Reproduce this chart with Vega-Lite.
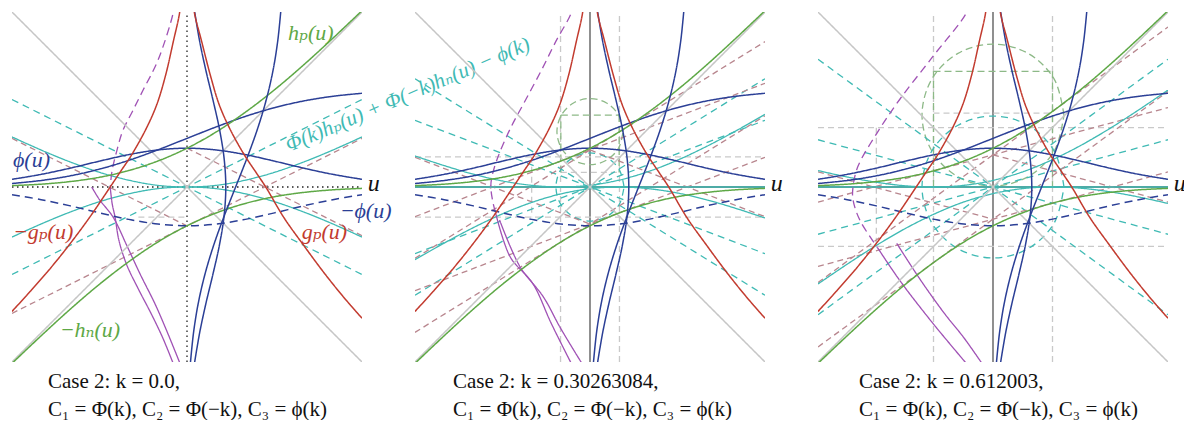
{
  "$schema": "https://vega.github.io/schema/vega-lite/v6.json",
  "background": "white",
  "padding": {"left": 12, "top": 12, "right": 0, "bottom": 0},
  "bounds": "flush",
  "spacing": 53,
  "config": {"view": {"stroke": null}, "font": "'Liberation Serif', 'Times New Roman', 'DejaVu Serif', serif"},
  "datasets": {
    "base": [
      {"curve":"d1","kind":"gray","u":-1.8,"v":-1.8,"i":0},{"curve":"d1","kind":"gray","u":1.8,"v":1.8,"i":1},
      {"curve":"d2","kind":"gray","u":-1.8,"v":1.8,"i":0},{"curve":"d2","kind":"gray","u":1.8,"v":-1.8,"i":1},

      {"curve":"phi","kind":"blue","u":-1.8,"v":0.079,"i":0},{"curve":"phi","kind":"blue","u":-1.5,"v":0.13,"i":1},{"curve":"phi","kind":"blue","u":-1.2,"v":0.194,"i":2},{"curve":"phi","kind":"blue","u":-0.9,"v":0.266,"i":3},{"curve":"phi","kind":"blue","u":-0.6,"v":0.333,"i":4},{"curve":"phi","kind":"blue","u":-0.3,"v":0.381,"i":5},{"curve":"phi","kind":"blue","u":0,"v":0.399,"i":6},{"curve":"phi","kind":"blue","u":0.3,"v":0.381,"i":7},{"curve":"phi","kind":"blue","u":0.6,"v":0.333,"i":8},{"curve":"phi","kind":"blue","u":0.9,"v":0.266,"i":9},{"curve":"phi","kind":"blue","u":1.2,"v":0.194,"i":10},{"curve":"phi","kind":"blue","u":1.5,"v":0.13,"i":11},{"curve":"phi","kind":"blue","u":1.8,"v":0.079,"i":12},

      {"curve":"cdf","kind":"blue","u":-1.8,"v":0.036,"i":0},{"curve":"cdf","kind":"blue","u":-1.5,"v":0.067,"i":1},{"curve":"cdf","kind":"blue","u":-1.2,"v":0.115,"i":2},{"curve":"cdf","kind":"blue","u":-0.9,"v":0.184,"i":3},{"curve":"cdf","kind":"blue","u":-0.6,"v":0.274,"i":4},{"curve":"cdf","kind":"blue","u":-0.3,"v":0.382,"i":5},{"curve":"cdf","kind":"blue","u":0,"v":0.5,"i":6},{"curve":"cdf","kind":"blue","u":0.3,"v":0.618,"i":7},{"curve":"cdf","kind":"blue","u":0.6,"v":0.726,"i":8},{"curve":"cdf","kind":"blue","u":0.9,"v":0.816,"i":9},{"curve":"cdf","kind":"blue","u":1.2,"v":0.885,"i":10},{"curve":"cdf","kind":"blue","u":1.5,"v":0.933,"i":11},{"curve":"cdf","kind":"blue","u":1.8,"v":0.964,"i":12},

      {"curve":"hP","kind":"green","u":-1.8,"v":0.014,"i":0},{"curve":"hP","kind":"green","u":-1.5,"v":0.029,"i":1},{"curve":"hP","kind":"green","u":-1.2,"v":0.056,"i":2},{"curve":"hP","kind":"green","u":-0.9,"v":0.1,"i":3},{"curve":"hP","kind":"green","u":-0.6,"v":0.169,"i":4},{"curve":"hP","kind":"green","u":-0.3,"v":0.267,"i":5},{"curve":"hP","kind":"green","u":0,"v":0.399,"i":6},{"curve":"hP","kind":"green","u":0.3,"v":0.566,"i":7},{"curve":"hP","kind":"green","u":0.6,"v":0.769,"i":8},{"curve":"hP","kind":"green","u":0.9,"v":1.0,"i":9},{"curve":"hP","kind":"green","u":1.2,"v":1.256,"i":10},{"curve":"hP","kind":"green","u":1.5,"v":1.53,"i":11},{"curve":"hP","kind":"green","u":1.8,"v":1.814,"i":12},

      {"curve":"mhN","kind":"green","u":-1.8,"v":-1.814,"i":0},{"curve":"mhN","kind":"green","u":-1.5,"v":-1.53,"i":1},{"curve":"mhN","kind":"green","u":-1.2,"v":-1.256,"i":2},{"curve":"mhN","kind":"green","u":-0.9,"v":-1.0,"i":3},{"curve":"mhN","kind":"green","u":-0.6,"v":-0.769,"i":4},{"curve":"mhN","kind":"green","u":-0.3,"v":-0.566,"i":5},{"curve":"mhN","kind":"green","u":0,"v":-0.399,"i":6},{"curve":"mhN","kind":"green","u":0.3,"v":-0.267,"i":7},{"curve":"mhN","kind":"green","u":0.6,"v":-0.169,"i":8},{"curve":"mhN","kind":"green","u":0.9,"v":-0.1,"i":9},{"curve":"mhN","kind":"green","u":1.2,"v":-0.056,"i":10},{"curve":"mhN","kind":"green","u":1.5,"v":-0.029,"i":11},{"curve":"mhN","kind":"green","u":1.8,"v":-0.014,"i":12},

      {"curve":"mphi","kind":"blueDash","u":-1.8,"v":-0.079,"i":0},{"curve":"mphi","kind":"blueDash","u":-1.5,"v":-0.13,"i":1},{"curve":"mphi","kind":"blueDash","u":-1.2,"v":-0.194,"i":2},{"curve":"mphi","kind":"blueDash","u":-0.9,"v":-0.266,"i":3},{"curve":"mphi","kind":"blueDash","u":-0.6,"v":-0.333,"i":4},{"curve":"mphi","kind":"blueDash","u":-0.3,"v":-0.381,"i":5},{"curve":"mphi","kind":"blueDash","u":0,"v":-0.399,"i":6},{"curve":"mphi","kind":"blueDash","u":0.3,"v":-0.381,"i":7},{"curve":"mphi","kind":"blueDash","u":0.6,"v":-0.333,"i":8},{"curve":"mphi","kind":"blueDash","u":0.9,"v":-0.266,"i":9},{"curve":"mphi","kind":"blueDash","u":1.2,"v":-0.194,"i":10},{"curve":"mphi","kind":"blueDash","u":1.5,"v":-0.13,"i":11},{"curve":"mphi","kind":"blueDash","u":1.8,"v":-0.079,"i":12},

      {"curve":"phiInv","kind":"blue","u":0.079,"v":-1.8,"i":0},{"curve":"phiInv","kind":"blue","u":0.13,"v":-1.5,"i":1},{"curve":"phiInv","kind":"blue","u":0.194,"v":-1.2,"i":2},{"curve":"phiInv","kind":"blue","u":0.266,"v":-0.9,"i":3},{"curve":"phiInv","kind":"blue","u":0.333,"v":-0.6,"i":4},{"curve":"phiInv","kind":"blue","u":0.381,"v":-0.3,"i":5},{"curve":"phiInv","kind":"blue","u":0.399,"v":0,"i":6},{"curve":"phiInv","kind":"blue","u":0.381,"v":0.3,"i":7},{"curve":"phiInv","kind":"blue","u":0.333,"v":0.6,"i":8},{"curve":"phiInv","kind":"blue","u":0.266,"v":0.9,"i":9},{"curve":"phiInv","kind":"blue","u":0.194,"v":1.2,"i":10},{"curve":"phiInv","kind":"blue","u":0.13,"v":1.5,"i":11},{"curve":"phiInv","kind":"blue","u":0.079,"v":1.8,"i":12},

      {"curve":"cdfInv","kind":"blue","u":0.036,"v":-1.8,"i":0},{"curve":"cdfInv","kind":"blue","u":0.067,"v":-1.5,"i":1},{"curve":"cdfInv","kind":"blue","u":0.115,"v":-1.2,"i":2},{"curve":"cdfInv","kind":"blue","u":0.184,"v":-0.9,"i":3},{"curve":"cdfInv","kind":"blue","u":0.274,"v":-0.6,"i":4},{"curve":"cdfInv","kind":"blue","u":0.382,"v":-0.3,"i":5},{"curve":"cdfInv","kind":"blue","u":0.5,"v":0,"i":6},{"curve":"cdfInv","kind":"blue","u":0.618,"v":0.3,"i":7},{"curve":"cdfInv","kind":"blue","u":0.726,"v":0.6,"i":8},{"curve":"cdfInv","kind":"blue","u":0.816,"v":0.9,"i":9},{"curve":"cdfInv","kind":"blue","u":0.885,"v":1.2,"i":10},{"curve":"cdfInv","kind":"blue","u":0.933,"v":1.5,"i":11},{"curve":"cdfInv","kind":"blue","u":0.964,"v":1.8,"i":12},

      {"curve":"gR","kind":"red","u":0.06,"v":2.0,"i":0},{"curve":"gR","kind":"red","u":0.075,"v":1.8,"i":1},{"curve":"gR","kind":"red","u":0.15,"v":1.5,"i":2},{"curve":"gR","kind":"red","u":0.24,"v":1.15,"i":3},{"curve":"gR","kind":"red","u":0.33,"v":0.85,"i":4},{"curve":"gR","kind":"red","u":0.44,"v":0.6,"i":5},{"curve":"gR","kind":"red","u":0.59,"v":0.33,"i":6},{"curve":"gR","kind":"red","u":0.71,"v":0.15,"i":7},{"curve":"gR","kind":"red","u":0.81,"v":0.0,"i":8},{"curve":"gR","kind":"red","u":1.0,"v":-0.32,"i":9},{"curve":"gR","kind":"red","u":1.2,"v":-0.6,"i":10},{"curve":"gR","kind":"red","u":1.4,"v":-0.87,"i":11},{"curve":"gR","kind":"red","u":1.6,"v":-1.12,"i":12},{"curve":"gR","kind":"red","u":1.8,"v":-1.35,"i":13},

      {"curve":"gL","kind":"red","u":-0.06,"v":2.0,"i":0},{"curve":"gL","kind":"red","u":-0.075,"v":1.8,"i":1},{"curve":"gL","kind":"red","u":-0.14,"v":1.5,"i":2},{"curve":"gL","kind":"red","u":-0.22,"v":1.15,"i":3},{"curve":"gL","kind":"red","u":-0.31,"v":0.85,"i":4},{"curve":"gL","kind":"red","u":-0.42,"v":0.6,"i":5},{"curve":"gL","kind":"red","u":-0.57,"v":0.33,"i":6},{"curve":"gL","kind":"red","u":-0.69,"v":0.15,"i":7},{"curve":"gL","kind":"red","u":-0.79,"v":0.0,"i":8},{"curve":"gL","kind":"red","u":-1.0,"v":-0.31,"i":9},{"curve":"gL","kind":"red","u":-1.2,"v":-0.58,"i":10},{"curve":"gL","kind":"red","u":-1.4,"v":-0.83,"i":11},{"curve":"gL","kind":"red","u":-1.6,"v":-1.06,"i":12},{"curve":"gL","kind":"red","u":-1.8,"v":-1.28,"i":13}
    ],
    "extra": [
      {"p":1,"curve":"p1au","kind":"axisDot","u":-1.8,"v":0,"i":0},{"p":1,"curve":"p1au","kind":"axisDot","u":1.8,"v":0,"i":1},
      {"p":1,"curve":"p1av","kind":"axisDot","u":0,"v":-1.8,"i":0},{"p":1,"curve":"p1av","kind":"axisDot","u":0,"v":1.8,"i":1},
      {"p":1,"curve":"p1cd1","kind":"cyanDash","u":-1.8,"v":0.9,"i":0},{"p":1,"curve":"p1cd1","kind":"cyanDash","u":1.8,"v":-0.9,"i":1},
      {"p":1,"curve":"p1cd2","kind":"cyanDash","u":-1.8,"v":-0.9,"i":0},{"p":1,"curve":"p1cd2","kind":"cyanDash","u":1.8,"v":0.9,"i":1},
      {"p":1,"curve":"p1m1","kind":"mauveDash","u":-1.8,"v":-1.3,"i":0},{"p":1,"curve":"p1m1","kind":"mauveDash","u":1.8,"v":0.5,"i":1},
      {"p":1,"curve":"p1m2","kind":"mauveDash","u":-1.8,"v":0.5,"i":0},{"p":1,"curve":"p1m2","kind":"mauveDash","u":0,"v":-0.4,"i":1},
      {"p":1,"curve":"p1m3","kind":"mauveDash","u":0,"v":0.4,"i":0},{"p":1,"curve":"p1m3","kind":"mauveDash","u":1.8,"v":-0.5,"i":1},
      {"p":1,"curve":"p1g1","kind":"grayDash","u":-0.5,"v":-0.31,"i":0},{"p":1,"curve":"p1g1","kind":"grayDash","u":0,"v":-0.31,"i":1},

      {"p":1,"curve":"p1F","kind":"cyan","u":-1.8,"v":0.515,"i":0},{"p":1,"curve":"p1F","kind":"cyan","u":-1.5,"v":0.38,"i":1},{"p":1,"curve":"p1F","kind":"cyan","u":-1.2,"v":0.257,"i":2},{"p":1,"curve":"p1F","kind":"cyan","u":-0.9,"v":0.151,"i":3},{"p":1,"curve":"p1F","kind":"cyan","u":-0.6,"v":0.07,"i":4},{"p":1,"curve":"p1F","kind":"cyan","u":-0.3,"v":0.017,"i":5},{"p":1,"curve":"p1F","kind":"cyan","u":0,"v":0,"i":6},{"p":1,"curve":"p1F","kind":"cyan","u":0.3,"v":0.017,"i":7},{"p":1,"curve":"p1F","kind":"cyan","u":0.6,"v":0.07,"i":8},{"p":1,"curve":"p1F","kind":"cyan","u":0.9,"v":0.151,"i":9},{"p":1,"curve":"p1F","kind":"cyan","u":1.2,"v":0.257,"i":10},{"p":1,"curve":"p1F","kind":"cyan","u":1.5,"v":0.38,"i":11},{"p":1,"curve":"p1F","kind":"cyan","u":1.8,"v":0.515,"i":12},
      {"p":1,"curve":"p1G","kind":"cyan","u":-1.8,"v":-0.515,"i":0},{"p":1,"curve":"p1G","kind":"cyan","u":-1.5,"v":-0.38,"i":1},{"p":1,"curve":"p1G","kind":"cyan","u":-1.2,"v":-0.257,"i":2},{"p":1,"curve":"p1G","kind":"cyan","u":-0.9,"v":-0.151,"i":3},{"p":1,"curve":"p1G","kind":"cyan","u":-0.6,"v":-0.07,"i":4},{"p":1,"curve":"p1G","kind":"cyan","u":-0.3,"v":-0.017,"i":5},{"p":1,"curve":"p1G","kind":"cyan","u":0,"v":0,"i":6},{"p":1,"curve":"p1G","kind":"cyan","u":0.3,"v":-0.017,"i":7},{"p":1,"curve":"p1G","kind":"cyan","u":0.6,"v":-0.07,"i":8},{"p":1,"curve":"p1G","kind":"cyan","u":0.9,"v":-0.151,"i":9},{"p":1,"curve":"p1G","kind":"cyan","u":1.2,"v":-0.257,"i":10},{"p":1,"curve":"p1G","kind":"cyan","u":1.5,"v":-0.38,"i":11},{"p":1,"curve":"p1G","kind":"cyan","u":1.8,"v":-0.515,"i":12},

      {"p":1,"curve":"p1pd","kind":"purpleDash","u":-0.13,"v":1.9,"i":0},{"p":1,"curve":"p1pd","kind":"purpleDash","u":-0.14,"v":1.8,"i":1},{"p":1,"curve":"p1pd","kind":"purpleDash","u":-0.3,"v":1.3,"i":2},{"p":1,"curve":"p1pd","kind":"purpleDash","u":-0.45,"v":1.0,"i":3},{"p":1,"curve":"p1pd","kind":"purpleDash","u":-0.56,"v":0.78,"i":4},{"p":1,"curve":"p1pd","kind":"purpleDash","u":-0.66,"v":0.58,"i":5},{"p":1,"curve":"p1pd","kind":"purpleDash","u":-0.72,"v":0.38,"i":6},{"p":1,"curve":"p1pd","kind":"purpleDash","u":-0.77,"v":0.17,"i":7},{"p":1,"curve":"p1pd","kind":"purpleDash","u":-0.79,"v":0,"i":8},
      {"p":1,"curve":"p1pa","kind":"purple","u":-0.98,"v":0,"i":0},{"p":1,"curve":"p1pa","kind":"purple","u":-0.9,"v":-0.13,"i":1},{"p":1,"curve":"p1pa","kind":"purple","u":-0.76,"v":-0.31,"i":2},{"p":1,"curve":"p1pa","kind":"purple","u":-0.62,"v":-0.6,"i":3},{"p":1,"curve":"p1pa","kind":"purple","u":-0.48,"v":-0.9,"i":4},{"p":1,"curve":"p1pa","kind":"purple","u":-0.33,"v":-1.2,"i":5},{"p":1,"curve":"p1pa","kind":"purple","u":-0.2,"v":-1.5,"i":6},{"p":1,"curve":"p1pa","kind":"purple","u":-0.07,"v":-1.82,"i":7},
      {"p":1,"curve":"p1pb","kind":"purple","u":-0.79,"v":0,"i":0},{"p":1,"curve":"p1pb","kind":"purple","u":-0.77,"v":-0.17,"i":1},{"p":1,"curve":"p1pb","kind":"purple","u":-0.74,"v":-0.31,"i":2},{"p":1,"curve":"p1pb","kind":"purple","u":-0.7,"v":-0.55,"i":3},{"p":1,"curve":"p1pb","kind":"purple","u":-0.62,"v":-0.8,"i":4},{"p":1,"curve":"p1pb","kind":"purple","u":-0.5,"v":-1.05,"i":5},{"p":1,"curve":"p1pb","kind":"purple","u":-0.37,"v":-1.3,"i":6},{"p":1,"curve":"p1pb","kind":"purple","u":-0.25,"v":-1.55,"i":7},{"p":1,"curve":"p1pb","kind":"purple","u":-0.14,"v":-1.82,"i":8},

      {"p":2,"curve":"p2au","kind":"axis","u":-1.8,"v":0,"i":0},{"p":2,"curve":"p2au","kind":"axis","u":1.8,"v":0,"i":1},
      {"p":2,"curve":"p2av","kind":"axis","u":0,"v":-1.8,"i":0},{"p":2,"curve":"p2av","kind":"axis","u":0,"v":1.8,"i":1},
      {"p":2,"curve":"p2g1","kind":"grayDash","u":-0.303,"v":-1.8,"i":0},{"p":2,"curve":"p2g1","kind":"grayDash","u":-0.303,"v":1.8,"i":1},
      {"p":2,"curve":"p2g2","kind":"grayDash","u":0.303,"v":-1.8,"i":0},{"p":2,"curve":"p2g2","kind":"grayDash","u":0.303,"v":1.8,"i":1},
      {"p":2,"curve":"p2g3","kind":"grayDash","u":-1.8,"v":0.31,"i":0},{"p":2,"curve":"p2g3","kind":"grayDash","u":1.8,"v":0.31,"i":1},
      {"p":2,"curve":"p2g4","kind":"grayDash","u":-1.8,"v":-0.31,"i":0},{"p":2,"curve":"p2g4","kind":"grayDash","u":1.8,"v":-0.31,"i":1},
      {"p":2,"curve":"p2g5","kind":"grayDash","u":-0.6,"v":0.31,"i":0},{"p":2,"curve":"p2g5","kind":"grayDash","u":-0.6,"v":-0.31,"i":1},
      {"p":2,"curve":"p2g6","kind":"grayDash","u":-0.3,"v":0.15,"i":0},{"p":2,"curve":"p2g6","kind":"grayDash","u":0.3,"v":0.15,"i":1},
      {"p":2,"curve":"p2r1","kind":"greenDash","u":-0.3,"v":0.15,"i":0},{"p":2,"curve":"p2r1","kind":"greenDash","u":-0.3,"v":0.74,"i":1},
      {"p":2,"curve":"p2r2","kind":"greenDash","u":-0.3,"v":0.74,"i":0},{"p":2,"curve":"p2r2","kind":"greenDash","u":0.3,"v":0.74,"i":1},
      {"p":2,"curve":"p2r3","kind":"greenDash","u":0.3,"v":0.74,"i":0},{"p":2,"curve":"p2r3","kind":"greenDash","u":0.3,"v":0.15,"i":1},
      {"p":2,"curve":"p2gc","kind":"greenDash","u":0.34,"v":0.57,"i":0},{"p":2,"curve":"p2gc","kind":"greenDash","u":0.294,"v":0.74,"i":1},{"p":2,"curve":"p2gc","kind":"greenDash","u":0.17,"v":0.864,"i":2},{"p":2,"curve":"p2gc","kind":"greenDash","u":0,"v":0.91,"i":3},{"p":2,"curve":"p2gc","kind":"greenDash","u":-0.17,"v":0.864,"i":4},{"p":2,"curve":"p2gc","kind":"greenDash","u":-0.294,"v":0.74,"i":5},{"p":2,"curve":"p2gc","kind":"greenDash","u":-0.34,"v":0.57,"i":6},{"p":2,"curve":"p2gc","kind":"greenDash","u":-0.294,"v":0.4,"i":7},{"p":2,"curve":"p2gc","kind":"greenDash","u":-0.17,"v":0.276,"i":8},{"p":2,"curve":"p2gc","kind":"greenDash","u":0,"v":0.23,"i":9},{"p":2,"curve":"p2gc","kind":"greenDash","u":0.17,"v":0.276,"i":10},{"p":2,"curve":"p2gc","kind":"greenDash","u":0.294,"v":0.4,"i":11},{"p":2,"curve":"p2gc","kind":"greenDash","u":0.34,"v":0.57,"i":12},
      {"p":2,"curve":"p2cc","kind":"cyanDash","u":0.35,"v":0,"i":0},{"p":2,"curve":"p2cc","kind":"cyanDash","u":0.303,"v":0.175,"i":1},{"p":2,"curve":"p2cc","kind":"cyanDash","u":0.175,"v":0.303,"i":2},{"p":2,"curve":"p2cc","kind":"cyanDash","u":0,"v":0.35,"i":3},{"p":2,"curve":"p2cc","kind":"cyanDash","u":-0.175,"v":0.303,"i":4},{"p":2,"curve":"p2cc","kind":"cyanDash","u":-0.303,"v":0.175,"i":5},{"p":2,"curve":"p2cc","kind":"cyanDash","u":-0.35,"v":0,"i":6},{"p":2,"curve":"p2cc","kind":"cyanDash","u":-0.303,"v":-0.175,"i":7},{"p":2,"curve":"p2cc","kind":"cyanDash","u":-0.175,"v":-0.303,"i":8},{"p":2,"curve":"p2cc","kind":"cyanDash","u":0,"v":-0.35,"i":9},{"p":2,"curve":"p2cc","kind":"cyanDash","u":0.175,"v":-0.303,"i":10},{"p":2,"curve":"p2cc","kind":"cyanDash","u":0.303,"v":-0.175,"i":11},{"p":2,"curve":"p2cc","kind":"cyanDash","u":0.35,"v":0,"i":12},
      {"p":2,"curve":"p2cd1","kind":"cyanDash","u":-1.8,"v":1.114,"i":0},{"p":2,"curve":"p2cd1","kind":"cyanDash","u":1.8,"v":-1.114,"i":1},
      {"p":2,"curve":"p2cd2","kind":"cyanDash","u":-1.8,"v":-1.114,"i":0},{"p":2,"curve":"p2cd2","kind":"cyanDash","u":1.8,"v":1.114,"i":1},
      {"p":2,"curve":"p2cd3","kind":"cyanDash","u":-1.8,"v":0.686,"i":0},{"p":2,"curve":"p2cd3","kind":"cyanDash","u":1.8,"v":-0.686,"i":1},
      {"p":2,"curve":"p2cd4","kind":"cyanDash","u":-1.8,"v":-0.686,"i":0},{"p":2,"curve":"p2cd4","kind":"cyanDash","u":1.8,"v":0.686,"i":1},
      {"p":2,"curve":"p2m1","kind":"mauveDash","u":-1.8,"v":-1.495,"i":0},{"p":2,"curve":"p2m1","kind":"mauveDash","u":1.8,"v":0.733,"i":1},
      {"p":2,"curve":"p2m2","kind":"mauveDash","u":-1.8,"v":-1.067,"i":0},{"p":2,"curve":"p2m2","kind":"mauveDash","u":1.8,"v":0.305,"i":1},
      {"p":2,"curve":"p2m3","kind":"mauveDash","u":-1.8,"v":-0.733,"i":0},{"p":2,"curve":"p2m3","kind":"mauveDash","u":1.8,"v":1.495,"i":1},
      {"p":2,"curve":"p2m4","kind":"mauveDash","u":-1.8,"v":-0.305,"i":0},{"p":2,"curve":"p2m4","kind":"mauveDash","u":1.8,"v":1.067,"i":1},
      {"p":2,"curve":"p2m5","kind":"mauveDash","u":-1.8,"v":0.305,"i":0},{"p":2,"curve":"p2m5","kind":"mauveDash","u":0,"v":-0.381,"i":1},
      {"p":2,"curve":"p2m6","kind":"mauveDash","u":0,"v":0.381,"i":0},{"p":2,"curve":"p2m6","kind":"mauveDash","u":1.8,"v":-0.305,"i":1},
      {"p":2,"curve":"p2H","kind":"cyan","u":-1.8,"v":0,"i":0},{"p":2,"curve":"p2H","kind":"cyan","u":1.8,"v":0,"i":1},
      {"p":2,"curve":"p2F","kind":"cyan","u":-1.8,"v":0.319,"i":0},{"p":2,"curve":"p2F","kind":"cyan","u":-1.5,"v":0.22,"i":1},{"p":2,"curve":"p2F","kind":"cyan","u":-1.2,"v":0.132,"i":2},{"p":2,"curve":"p2F","kind":"cyan","u":-0.9,"v":0.062,"i":3},{"p":2,"curve":"p2F","kind":"cyan","u":-0.6,"v":0.017,"i":4},{"p":2,"curve":"p2F","kind":"cyan","u":-0.3,"v":0,"i":5},{"p":2,"curve":"p2F","kind":"cyan","u":0,"v":0.018,"i":6},{"p":2,"curve":"p2F","kind":"cyan","u":0.3,"v":0.071,"i":7},{"p":2,"curve":"p2F","kind":"cyan","u":0.6,"v":0.159,"i":8},{"p":2,"curve":"p2F","kind":"cyan","u":0.9,"v":0.276,"i":9},{"p":2,"curve":"p2F","kind":"cyan","u":1.2,"v":0.418,"i":10},{"p":2,"curve":"p2F","kind":"cyan","u":1.5,"v":0.577,"i":11},{"p":2,"curve":"p2F","kind":"cyan","u":1.8,"v":0.747,"i":12},
      {"p":2,"curve":"p2G","kind":"cyan","u":-1.8,"v":-0.747,"i":0},{"p":2,"curve":"p2G","kind":"cyan","u":-1.5,"v":-0.577,"i":1},{"p":2,"curve":"p2G","kind":"cyan","u":-1.2,"v":-0.418,"i":2},{"p":2,"curve":"p2G","kind":"cyan","u":-0.9,"v":-0.276,"i":3},{"p":2,"curve":"p2G","kind":"cyan","u":-0.6,"v":-0.159,"i":4},{"p":2,"curve":"p2G","kind":"cyan","u":-0.3,"v":-0.071,"i":5},{"p":2,"curve":"p2G","kind":"cyan","u":0,"v":-0.018,"i":6},{"p":2,"curve":"p2G","kind":"cyan","u":0.3,"v":0,"i":7},{"p":2,"curve":"p2G","kind":"cyan","u":0.6,"v":-0.017,"i":8},{"p":2,"curve":"p2G","kind":"cyan","u":0.9,"v":-0.062,"i":9},{"p":2,"curve":"p2G","kind":"cyan","u":1.2,"v":-0.132,"i":10},{"p":2,"curve":"p2G","kind":"cyan","u":1.5,"v":-0.22,"i":11},{"p":2,"curve":"p2G","kind":"cyan","u":1.8,"v":-0.319,"i":12},
      {"p":2,"curve":"p2pd","kind":"purpleDash","u":-0.18,"v":1.9,"i":0},{"p":2,"curve":"p2pd","kind":"purpleDash","u":-0.19,"v":1.8,"i":1},{"p":2,"curve":"p2pd","kind":"purpleDash","u":-0.35,"v":1.5,"i":2},{"p":2,"curve":"p2pd","kind":"purpleDash","u":-0.5,"v":1.2,"i":3},{"p":2,"curve":"p2pd","kind":"purpleDash","u":-0.66,"v":0.9,"i":4},{"p":2,"curve":"p2pd","kind":"purpleDash","u":-0.82,"v":0.6,"i":5},{"p":2,"curve":"p2pd","kind":"purpleDash","u":-0.95,"v":0.3,"i":6},{"p":2,"curve":"p2pd","kind":"purpleDash","u":-1.01,"v":0.1,"i":7},{"p":2,"curve":"p2pd","kind":"purpleDash","u":-1.02,"v":0,"i":8},{"p":2,"curve":"p2pd","kind":"purpleDash","u":-1.0,"v":-0.15,"i":9},{"p":2,"curve":"p2pd","kind":"purpleDash","u":-0.97,"v":-0.27,"i":10},
      {"p":2,"curve":"p2pa","kind":"purple","u":-0.97,"v":-0.27,"i":0},{"p":2,"curve":"p2pa","kind":"purple","u":-0.82,"v":-0.72,"i":1},{"p":2,"curve":"p2pa","kind":"purple","u":-0.59,"v":-0.99,"i":2},{"p":2,"curve":"p2pa","kind":"purple","u":-0.4,"v":-1.4,"i":3},{"p":2,"curve":"p2pa","kind":"purple","u":-0.19,"v":-1.82,"i":4},
      {"p":2,"curve":"p2pb","kind":"purple","u":-0.93,"v":-0.34,"i":0},{"p":2,"curve":"p2pb","kind":"purple","u":-0.72,"v":-0.82,"i":1},{"p":2,"curve":"p2pb","kind":"purple","u":-0.48,"v":-1.13,"i":2},{"p":2,"curve":"p2pb","kind":"purple","u":-0.31,"v":-1.44,"i":3},{"p":2,"curve":"p2pb","kind":"purple","u":-0.08,"v":-1.82,"i":4},

      {"p":3,"curve":"p3au","kind":"axis","u":-1.8,"v":0,"i":0},{"p":3,"curve":"p3au","kind":"axis","u":1.8,"v":0,"i":1},
      {"p":3,"curve":"p3av","kind":"axis","u":0,"v":-1.8,"i":0},{"p":3,"curve":"p3av","kind":"axis","u":0,"v":1.8,"i":1},
      {"p":3,"curve":"p3g1","kind":"grayDash","u":-0.612,"v":-1.8,"i":0},{"p":3,"curve":"p3g1","kind":"grayDash","u":-0.612,"v":1.8,"i":1},
      {"p":3,"curve":"p3g2","kind":"grayDash","u":0.612,"v":-1.8,"i":0},{"p":3,"curve":"p3g2","kind":"grayDash","u":0.612,"v":1.8,"i":1},
      {"p":3,"curve":"p3g3","kind":"grayDash","u":-1.8,"v":0.61,"i":0},{"p":3,"curve":"p3g3","kind":"grayDash","u":1.8,"v":0.61,"i":1},
      {"p":3,"curve":"p3g4","kind":"grayDash","u":-1.8,"v":-0.61,"i":0},{"p":3,"curve":"p3g4","kind":"grayDash","u":1.8,"v":-0.61,"i":1},
      {"p":3,"curve":"p3g5","kind":"grayDash","u":-1.2,"v":0.61,"i":0},{"p":3,"curve":"p3g5","kind":"grayDash","u":-1.2,"v":-0.61,"i":1},
      {"p":3,"curve":"p3g6","kind":"grayDash","u":-0.612,"v":0.76,"i":0},{"p":3,"curve":"p3g6","kind":"grayDash","u":0.612,"v":0.76,"i":1},
      {"p":3,"curve":"p3r1","kind":"greenDash","u":-0.612,"v":0,"i":0},{"p":3,"curve":"p3r1","kind":"greenDash","u":-0.612,"v":1.19,"i":1},
      {"p":3,"curve":"p3r2","kind":"greenDash","u":-0.612,"v":1.19,"i":0},{"p":3,"curve":"p3r2","kind":"greenDash","u":0.612,"v":1.19,"i":1},
      {"p":3,"curve":"p3r3","kind":"greenDash","u":0.612,"v":1.19,"i":0},{"p":3,"curve":"p3r3","kind":"greenDash","u":0.612,"v":0,"i":1},
      {"p":3,"curve":"p3gc","kind":"greenDash","u":0.73,"v":0.74,"i":0},{"p":3,"curve":"p3gc","kind":"greenDash","u":0.632,"v":1.105,"i":1},{"p":3,"curve":"p3gc","kind":"greenDash","u":0.365,"v":1.372,"i":2},{"p":3,"curve":"p3gc","kind":"greenDash","u":0,"v":1.47,"i":3},{"p":3,"curve":"p3gc","kind":"greenDash","u":-0.365,"v":1.372,"i":4},{"p":3,"curve":"p3gc","kind":"greenDash","u":-0.632,"v":1.105,"i":5},{"p":3,"curve":"p3gc","kind":"greenDash","u":-0.73,"v":0.74,"i":6},{"p":3,"curve":"p3gc","kind":"greenDash","u":-0.632,"v":0.375,"i":7},{"p":3,"curve":"p3gc","kind":"greenDash","u":-0.365,"v":0.108,"i":8},{"p":3,"curve":"p3gc","kind":"greenDash","u":0,"v":0.01,"i":9},{"p":3,"curve":"p3gc","kind":"greenDash","u":0.365,"v":0.108,"i":10},{"p":3,"curve":"p3gc","kind":"greenDash","u":0.632,"v":0.375,"i":11},{"p":3,"curve":"p3gc","kind":"greenDash","u":0.73,"v":0.74,"i":12},
      {"p":3,"curve":"p3cc","kind":"cyanDash","u":0.73,"v":0,"i":0},{"p":3,"curve":"p3cc","kind":"cyanDash","u":0.632,"v":0.365,"i":1},{"p":3,"curve":"p3cc","kind":"cyanDash","u":0.365,"v":0.632,"i":2},{"p":3,"curve":"p3cc","kind":"cyanDash","u":0,"v":0.73,"i":3},{"p":3,"curve":"p3cc","kind":"cyanDash","u":-0.365,"v":0.632,"i":4},{"p":3,"curve":"p3cc","kind":"cyanDash","u":-0.632,"v":0.365,"i":5},{"p":3,"curve":"p3cc","kind":"cyanDash","u":-0.73,"v":0,"i":6},{"p":3,"curve":"p3cc","kind":"cyanDash","u":-0.632,"v":-0.365,"i":7},{"p":3,"curve":"p3cc","kind":"cyanDash","u":-0.365,"v":-0.632,"i":8},{"p":3,"curve":"p3cc","kind":"cyanDash","u":0,"v":-0.73,"i":9},{"p":3,"curve":"p3cc","kind":"cyanDash","u":0.365,"v":-0.632,"i":10},{"p":3,"curve":"p3cc","kind":"cyanDash","u":0.632,"v":-0.365,"i":11},{"p":3,"curve":"p3cc","kind":"cyanDash","u":0.73,"v":0,"i":12},
      {"p":3,"curve":"p3cd1","kind":"cyanDash","u":-1.8,"v":1.314,"i":0},{"p":3,"curve":"p3cd1","kind":"cyanDash","u":1.8,"v":-1.314,"i":1},
      {"p":3,"curve":"p3cd2","kind":"cyanDash","u":-1.8,"v":-1.314,"i":0},{"p":3,"curve":"p3cd2","kind":"cyanDash","u":1.8,"v":1.314,"i":1},
      {"p":3,"curve":"p3cd3","kind":"cyanDash","u":-1.8,"v":0.486,"i":0},{"p":3,"curve":"p3cd3","kind":"cyanDash","u":1.8,"v":-0.486,"i":1},
      {"p":3,"curve":"p3cd4","kind":"cyanDash","u":-1.8,"v":-0.486,"i":0},{"p":3,"curve":"p3cd4","kind":"cyanDash","u":1.8,"v":0.486,"i":1},
      {"p":3,"curve":"p3m1","kind":"mauveDash","u":-1.8,"v":-1.645,"i":0},{"p":3,"curve":"p3m1","kind":"mauveDash","u":1.8,"v":0.983,"i":1},
      {"p":3,"curve":"p3m2","kind":"mauveDash","u":-1.8,"v":-0.817,"i":0},{"p":3,"curve":"p3m2","kind":"mauveDash","u":1.8,"v":0.155,"i":1},
      {"p":3,"curve":"p3m3","kind":"mauveDash","u":-1.8,"v":-0.983,"i":0},{"p":3,"curve":"p3m3","kind":"mauveDash","u":1.8,"v":1.645,"i":1},
      {"p":3,"curve":"p3m4","kind":"mauveDash","u":-1.8,"v":-0.155,"i":0},{"p":3,"curve":"p3m4","kind":"mauveDash","u":1.8,"v":0.817,"i":1},
      {"p":3,"curve":"p3m5","kind":"mauveDash","u":-1.8,"v":0.155,"i":0},{"p":3,"curve":"p3m5","kind":"mauveDash","u":0,"v":-0.331,"i":1},
      {"p":3,"curve":"p3m6","kind":"mauveDash","u":0,"v":0.331,"i":0},{"p":3,"curve":"p3m6","kind":"mauveDash","u":1.8,"v":-0.155,"i":1},
      {"p":3,"curve":"p3H","kind":"cyan","u":-1.8,"v":0,"i":0},{"p":3,"curve":"p3H","kind":"cyan","u":1.8,"v":0,"i":1},
      {"p":3,"curve":"p3F","kind":"cyan","u":-1.8,"v":0.169,"i":0},{"p":3,"curve":"p3F","kind":"cyan","u":-1.5,"v":0.103,"i":1},{"p":3,"curve":"p3F","kind":"cyan","u":-1.2,"v":0.049,"i":2},{"p":3,"curve":"p3F","kind":"cyan","u":-0.9,"v":0.012,"i":3},{"p":3,"curve":"p3F","kind":"cyan","u":-0.6,"v":0,"i":4},{"p":3,"curve":"p3F","kind":"cyan","u":-0.3,"v":0.017,"i":5},{"p":3,"curve":"p3F","kind":"cyan","u":0,"v":0.068,"i":6},{"p":3,"curve":"p3F","kind":"cyan","u":0.3,"v":0.154,"i":7},{"p":3,"curve":"p3F","kind":"cyan","u":0.6,"v":0.276,"i":8},{"p":3,"curve":"p3F","kind":"cyan","u":0.9,"v":0.426,"i":9},{"p":3,"curve":"p3F","kind":"cyan","u":1.2,"v":0.601,"i":10},{"p":3,"curve":"p3F","kind":"cyan","u":1.5,"v":0.794,"i":11},{"p":3,"curve":"p3F","kind":"cyan","u":1.8,"v":0.997,"i":12},
      {"p":3,"curve":"p3G","kind":"cyan","u":-1.8,"v":-0.997,"i":0},{"p":3,"curve":"p3G","kind":"cyan","u":-1.5,"v":-0.794,"i":1},{"p":3,"curve":"p3G","kind":"cyan","u":-1.2,"v":-0.601,"i":2},{"p":3,"curve":"p3G","kind":"cyan","u":-0.9,"v":-0.426,"i":3},{"p":3,"curve":"p3G","kind":"cyan","u":-0.6,"v":-0.276,"i":4},{"p":3,"curve":"p3G","kind":"cyan","u":-0.3,"v":-0.154,"i":5},{"p":3,"curve":"p3G","kind":"cyan","u":0,"v":-0.068,"i":6},{"p":3,"curve":"p3G","kind":"cyan","u":0.3,"v":-0.017,"i":7},{"p":3,"curve":"p3G","kind":"cyan","u":0.6,"v":0,"i":8},{"p":3,"curve":"p3G","kind":"cyan","u":0.9,"v":-0.012,"i":9},{"p":3,"curve":"p3G","kind":"cyan","u":1.2,"v":-0.049,"i":10},{"p":3,"curve":"p3G","kind":"cyan","u":1.5,"v":-0.103,"i":11},{"p":3,"curve":"p3G","kind":"cyan","u":1.8,"v":-0.169,"i":12},
      {"p":3,"curve":"p3pd","kind":"purpleDash","u":-0.25,"v":1.9,"i":0},{"p":3,"curve":"p3pd","kind":"purpleDash","u":-0.27,"v":1.8,"i":1},{"p":3,"curve":"p3pd","kind":"purpleDash","u":-0.62,"v":1.34,"i":2},{"p":3,"curve":"p3pd","kind":"purpleDash","u":-0.96,"v":0.9,"i":3},{"p":3,"curve":"p3pd","kind":"purpleDash","u":-1.19,"v":0.56,"i":4},{"p":3,"curve":"p3pd","kind":"purpleDash","u":-1.39,"v":0.21,"i":5},{"p":3,"curve":"p3pd","kind":"purpleDash","u":-1.44,"v":0,"i":6},{"p":3,"curve":"p3pd","kind":"purpleDash","u":-1.44,"v":-0.13,"i":7},{"p":3,"curve":"p3pd","kind":"purpleDash","u":-1.37,"v":-0.34,"i":8},{"p":3,"curve":"p3pd","kind":"purpleDash","u":-1.19,"v":-0.62,"i":9},
      {"p":3,"curve":"p3pa","kind":"purple","u":-1.19,"v":-0.62,"i":0},{"p":3,"curve":"p3pa","kind":"purple","u":-0.96,"v":-0.96,"i":1},{"p":3,"curve":"p3pa","kind":"purple","u":-0.62,"v":-1.4,"i":2},{"p":3,"curve":"p3pa","kind":"purple","u":-0.27,"v":-1.82,"i":3},
      {"p":3,"curve":"p3pb","kind":"purple","u":-0.99,"v":-0.58,"i":0},{"p":3,"curve":"p3pb","kind":"purple","u":-0.75,"v":-0.95,"i":1},{"p":3,"curve":"p3pb","kind":"purple","u":-0.5,"v":-1.3,"i":2},{"p":3,"curve":"p3pb","kind":"purple","u":-0.3,"v":-1.55,"i":3},{"p":3,"curve":"p3pb","kind":"purple","u":-0.11,"v":-1.82,"i":4}
    ],
    "labels": [
      {"text":"hₚ(u)","kind":"green","u":1.04,"v":1.51},
      {"text":"ϕ(u)","kind":"blue","u":-1.79,"v":0.21},
      {"text":"−ϕ(u)","kind":"blue","u":1.57,"v":-0.32},
      {"text":"−gₚ(u)","kind":"red","u":-1.79,"v":-0.53},
      {"text":"gₚ(u)","kind":"red","u":1.18,"v":-0.53},
      {"text":"−hₙ(u)","kind":"green","u":-1.31,"v":-1.54}
    ],
    "formula": [
      {"text":"Φ(k)hₚ(u) + Φ(−k)hₙ(u) − ϕ(k)","kind":"cyan","u":1.05,"v":0.36}
    ],
    "axisNames": [
      {"text":"u","kind":"black","u":1.86,"v":-0.04}
    ]
  },
  "hconcat": [
    {
      "width": 350, "height": 350,
      "title": {"text": ["Case 2: k = 0.0,", "C₁ = Φ(k), C₂ = Φ(−k), C₃ = ϕ(k)"], "orient": "bottom", "anchor": "start", "align": "left", "dx": 36, "offset": 9, "font": "'Liberation Serif', 'Times New Roman', 'DejaVu Serif', serif", "fontSize": 21, "fontWeight": "normal", "lineHeight": 28, "color": "#111111"},
      "encoding": {
        "x": {"field": "u", "type": "quantitative", "scale": {"domain": [-1.8, 1.8], "nice": false, "zero": false}, "axis": null},
        "y": {"field": "v", "type": "quantitative", "scale": {"domain": [-1.8, 1.8], "nice": false, "zero": false}, "axis": null},
        "color": {"field": "kind", "type": "nominal", "legend": null, "scale": {"domain": ["gray","blue","blueDash","green","red","purple","purpleDash","cyan","cyanDash","mauveDash","grayDash","greenDash","axis","axisDot","black"], "range": ["#c6c6c6","#2b3f96","#2b3f96","#5ea846","#c23b2f","#a052b5","#a052b5","#3fbab4","#3fbab4","#b8868e","#c9c9c9","#8db987","#555555","#222222","#111111"]}}
      },
      "layer": [
        {"data": {"name": "extra"}, "transform": [{"filter": "datum.p == 1"}],
         "mark": {"type": "line", "clip": true, "interpolate": "catmull-rom", "strokeWidth": 1.3},
         "encoding": {"strokeDash": {"field": "kind", "type": "nominal", "legend": null, "scale": {"domain": ["gray","blue","blueDash","green","red","purple","purpleDash","cyan","cyanDash","mauveDash","grayDash","greenDash","axis","axisDot","black"], "range": [[1,0],[1,0],[8,5],[1,0],[1,0],[1,0],[8,5],[1,0],[7,5],[6,4],[6,4],[7,4],[1,0],[1.5,3.5],[1,0]]}}, "detail": {"field": "curve"}, "order": {"field": "i", "type": "quantitative"}}},
        {"data": {"name": "base"},
         "mark": {"type": "line", "clip": true, "interpolate": "catmull-rom", "strokeWidth": 1.5},
         "encoding": {"strokeDash": {"field": "kind", "type": "nominal", "legend": null, "scale": {"domain": ["gray","blue","blueDash","green","red","purple","purpleDash","cyan","cyanDash","mauveDash","grayDash","greenDash","axis","axisDot","black"], "range": [[1,0],[1,0],[8,5],[1,0],[1,0],[1,0],[8,5],[1,0],[7,5],[6,4],[6,4],[7,4],[1,0],[1.5,3.5],[1,0]]}}, "detail": {"field": "curve"}, "order": {"field": "i", "type": "quantitative"}}},
        {"data": {"name": "labels"},
         "mark": {"type": "text", "align": "left", "baseline": "alphabetic", "font": "'Liberation Serif', 'Times New Roman', 'DejaVu Serif', serif", "fontStyle": "italic", "fontSize": 22},
         "encoding": {"text": {"field": "text"}}},
        {"data": {"name": "formula"},
         "mark": {"type": "text", "align": "left", "baseline": "alphabetic", "angle": 337, "font": "'Liberation Serif', 'Times New Roman', 'DejaVu Serif', serif", "fontStyle": "italic", "fontSize": 21},
         "encoding": {"text": {"field": "text"}}},
        {"data": {"name": "axisNames"},
         "mark": {"type": "text", "align": "left", "baseline": "alphabetic", "font": "'Liberation Serif', 'Times New Roman', 'DejaVu Serif', serif", "fontStyle": "italic", "fontSize": 24},
         "encoding": {"text": {"field": "text"}}}
      ]
    },
    {
      "width": 350, "height": 350,
      "title": {"text": ["Case 2: k = 0.30263084,", "C₁ = Φ(k), C₂ = Φ(−k), C₃ = ϕ(k)"], "orient": "bottom", "anchor": "start", "align": "left", "dx": 38, "offset": 9, "font": "'Liberation Serif', 'Times New Roman', 'DejaVu Serif', serif", "fontSize": 21, "fontWeight": "normal", "lineHeight": 28, "color": "#111111"},
      "encoding": {
        "x": {"field": "u", "type": "quantitative", "scale": {"domain": [-1.8, 1.8], "nice": false, "zero": false}, "axis": null},
        "y": {"field": "v", "type": "quantitative", "scale": {"domain": [-1.8, 1.8], "nice": false, "zero": false}, "axis": null},
        "color": {"field": "kind", "type": "nominal", "legend": null, "scale": {"domain": ["gray","blue","blueDash","green","red","purple","purpleDash","cyan","cyanDash","mauveDash","grayDash","greenDash","axis","axisDot","black"], "range": ["#c6c6c6","#2b3f96","#2b3f96","#5ea846","#c23b2f","#a052b5","#a052b5","#3fbab4","#3fbab4","#b8868e","#c9c9c9","#8db987","#555555","#222222","#111111"]}}
      },
      "layer": [
        {"data": {"name": "extra"}, "transform": [{"filter": "datum.p == 2"}],
         "mark": {"type": "line", "clip": true, "interpolate": "catmull-rom", "strokeWidth": 1.3},
         "encoding": {"strokeDash": {"field": "kind", "type": "nominal", "legend": null, "scale": {"domain": ["gray","blue","blueDash","green","red","purple","purpleDash","cyan","cyanDash","mauveDash","grayDash","greenDash","axis","axisDot","black"], "range": [[1,0],[1,0],[8,5],[1,0],[1,0],[1,0],[8,5],[1,0],[7,5],[6,4],[6,4],[7,4],[1,0],[1.5,3.5],[1,0]]}}, "detail": {"field": "curve"}, "order": {"field": "i", "type": "quantitative"}}},
        {"data": {"name": "base"},
         "mark": {"type": "line", "clip": true, "interpolate": "catmull-rom", "strokeWidth": 1.5},
         "encoding": {"strokeDash": {"field": "kind", "type": "nominal", "legend": null, "scale": {"domain": ["gray","blue","blueDash","green","red","purple","purpleDash","cyan","cyanDash","mauveDash","grayDash","greenDash","axis","axisDot","black"], "range": [[1,0],[1,0],[8,5],[1,0],[1,0],[1,0],[8,5],[1,0],[7,5],[6,4],[6,4],[7,4],[1,0],[1.5,3.5],[1,0]]}}, "detail": {"field": "curve"}, "order": {"field": "i", "type": "quantitative"}}},
        {"data": {"name": "axisNames"},
         "mark": {"type": "text", "align": "left", "baseline": "alphabetic", "font": "'Liberation Serif', 'Times New Roman', 'DejaVu Serif', serif", "fontStyle": "italic", "fontSize": 24},
         "encoding": {"text": {"field": "text"}}}
      ]
    },
    {
      "width": 350, "height": 350,
      "title": {"text": ["Case 2: k = 0.612003,", "C₁ = Φ(k), C₂ = Φ(−k), C₃ = ϕ(k)"], "orient": "bottom", "anchor": "start", "align": "left", "dx": 41, "offset": 9, "font": "'Liberation Serif', 'Times New Roman', 'DejaVu Serif', serif", "fontSize": 21, "fontWeight": "normal", "lineHeight": 28, "color": "#111111"},
      "encoding": {
        "x": {"field": "u", "type": "quantitative", "scale": {"domain": [-1.8, 1.8], "nice": false, "zero": false}, "axis": null},
        "y": {"field": "v", "type": "quantitative", "scale": {"domain": [-1.8, 1.8], "nice": false, "zero": false}, "axis": null},
        "color": {"field": "kind", "type": "nominal", "legend": null, "scale": {"domain": ["gray","blue","blueDash","green","red","purple","purpleDash","cyan","cyanDash","mauveDash","grayDash","greenDash","axis","axisDot","black"], "range": ["#c6c6c6","#2b3f96","#2b3f96","#5ea846","#c23b2f","#a052b5","#a052b5","#3fbab4","#3fbab4","#b8868e","#c9c9c9","#8db987","#555555","#222222","#111111"]}}
      },
      "layer": [
        {"data": {"name": "extra"}, "transform": [{"filter": "datum.p == 3"}],
         "mark": {"type": "line", "clip": true, "interpolate": "catmull-rom", "strokeWidth": 1.3},
         "encoding": {"strokeDash": {"field": "kind", "type": "nominal", "legend": null, "scale": {"domain": ["gray","blue","blueDash","green","red","purple","purpleDash","cyan","cyanDash","mauveDash","grayDash","greenDash","axis","axisDot","black"], "range": [[1,0],[1,0],[8,5],[1,0],[1,0],[1,0],[8,5],[1,0],[7,5],[6,4],[6,4],[7,4],[1,0],[1.5,3.5],[1,0]]}}, "detail": {"field": "curve"}, "order": {"field": "i", "type": "quantitative"}}},
        {"data": {"name": "base"},
         "mark": {"type": "line", "clip": true, "interpolate": "catmull-rom", "strokeWidth": 1.5},
         "encoding": {"strokeDash": {"field": "kind", "type": "nominal", "legend": null, "scale": {"domain": ["gray","blue","blueDash","green","red","purple","purpleDash","cyan","cyanDash","mauveDash","grayDash","greenDash","axis","axisDot","black"], "range": [[1,0],[1,0],[8,5],[1,0],[1,0],[1,0],[8,5],[1,0],[7,5],[6,4],[6,4],[7,4],[1,0],[1.5,3.5],[1,0]]}}, "detail": {"field": "curve"}, "order": {"field": "i", "type": "quantitative"}}},
        {"data": {"name": "axisNames"},
         "mark": {"type": "text", "align": "left", "baseline": "alphabetic", "font": "'Liberation Serif', 'Times New Roman', 'DejaVu Serif', serif", "fontStyle": "italic", "fontSize": 24},
         "encoding": {"text": {"field": "text"}}}
      ]
    }
  ]
}
